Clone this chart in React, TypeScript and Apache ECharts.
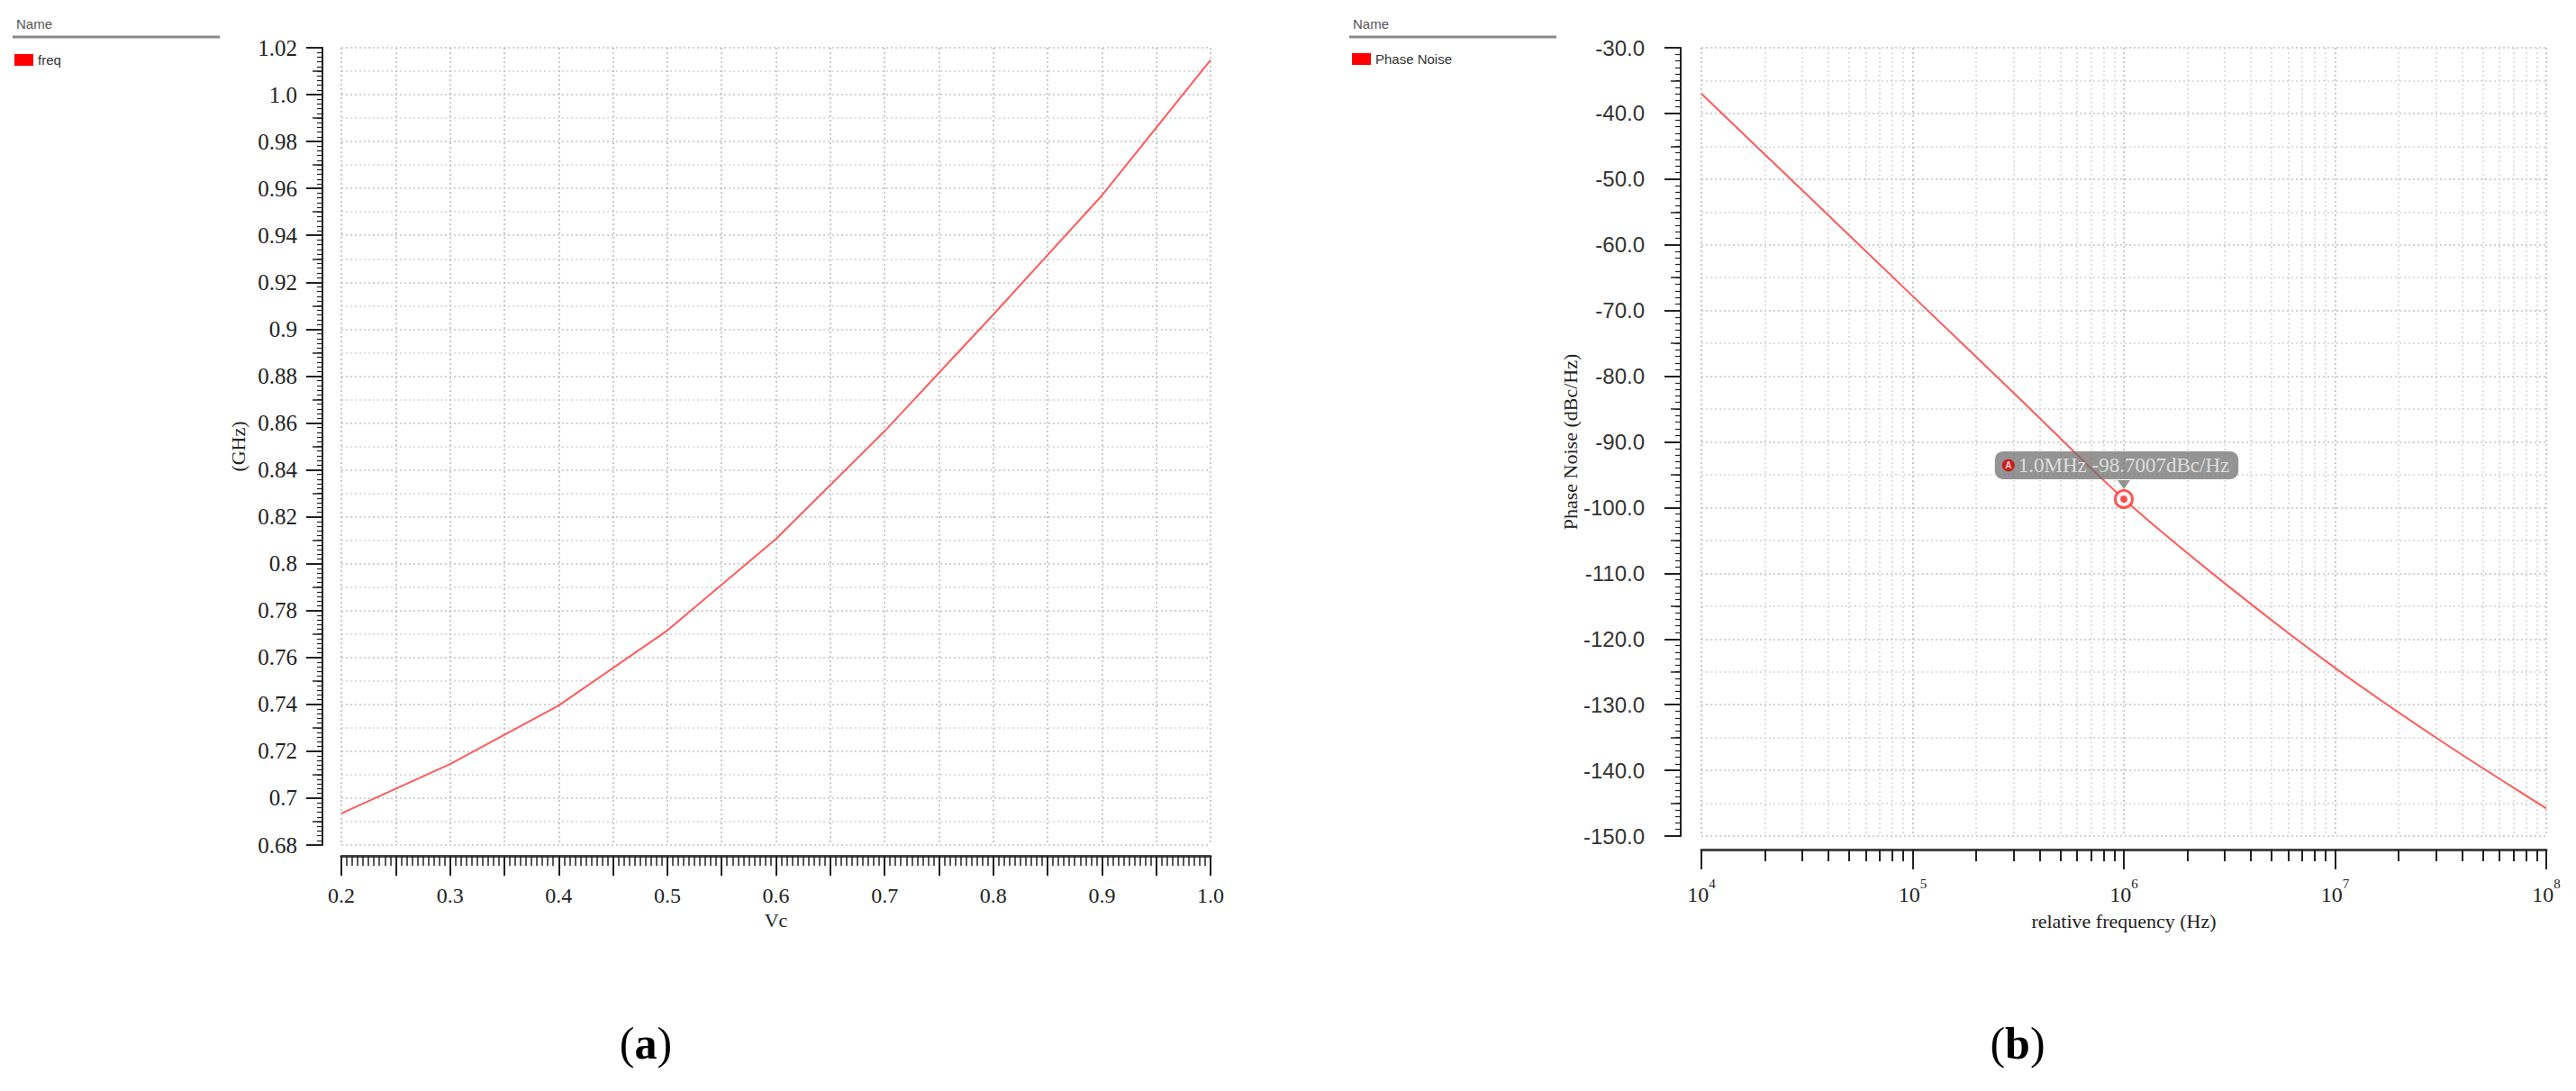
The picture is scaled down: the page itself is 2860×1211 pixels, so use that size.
import React, { useEffect, useRef } from 'react';
import * as echarts from 'echarts';

// ---------- data ----------
const vcValues = [0.2, 0.3, 0.4, 0.5, 0.6, 0.7, 0.8, 0.9, 1.0];
const freqGHz = [0.6935, 0.7145, 0.7395, 0.7715, 0.8105, 0.8565, 0.9062, 0.957, 1.0148];

const offsetFreqHz = [10000, 31623, 100000, 316228, 1000000, 3162278, 10000000, 31622777, 100000000];
const phaseNoise = [-37.0, -52.4, -67.8, -83.2, -98.7, -112.1, -124.4, -135.5, -145.8];

const markerFreqHz = 1000000;
const markerPN = -98.7007;
const markerText = '1.0MHz -98.7007dBc/Hz';

const decadeExponents = [4, 5, 6, 7];
const minorFactors = [2, 3, 4, 5, 6, 7, 8, 9];

const SERIF = '"Liberation Serif", "DejaVu Serif", serif';
const SANS = '"Liberation Sans", "DejaVu Sans", sans-serif';
const LINE_COLOR = '#ff5a5a';

const minorLogTicks: number[] = [];
decadeExponents.forEach((e) => minorFactors.forEach((k) => minorLogTicks.push(Math.log10(k * Math.pow(10, e)))));

const fmtLeftY = (v: number) => {
  let s = String(+v.toFixed(2));
  if (s.indexOf('.') < 0) s += '.0';
  return s;
};
const fmtLeftX = (v: number) => {
  const r = Math.round(v * 100);
  if (r % 10 !== 0) return '';
  return (r / 100).toFixed(1);
};

export default function App() {
  const ref = useRef<HTMLDivElement>(null);
  useEffect(() => {
    document.body.style.margin = '0';
    if (!ref.current) return;
    const chart = echarts.init(ref.current, null, { renderer: 'svg' });

    const dotMajor = { type: [2, 3] as any, color: '#b8b8b8', width: 1.5 };
    const dotMinor = { type: [2, 3] as any, color: '#d4d4d4', width: 1.5 };
    const tickStyle = { color: '#222', width: 2 };

    const option: any = {
      animation: false,
      backgroundColor: '#ffffff',
      grid: [
        { left: 379, top: 53, width: 965, height: 885 },
        { left: 1889, top: 53, width: 938, height: 875 },
      ],
      legend: [
        {
          left: 16, top: 59, padding: 0, itemWidth: 21, itemHeight: 13, icon: 'rect', selectedMode: false,
          data: [{ name: 'freq', itemStyle: { color: '#ff0000' } }],
          textStyle: { fontFamily: SANS, fontSize: 15, color: '#333' },
        },
        {
          left: 1501, top: 58, padding: 0, itemWidth: 21, itemHeight: 13, icon: 'rect', selectedMode: false,
          data: [{ name: 'Phase Noise', itemStyle: { color: '#ff0000' } }],
          textStyle: { fontFamily: SANS, fontSize: 15, color: '#333' },
        },
      ],
      xAxis: [
        {
          type: 'value', gridIndex: 0, min: 0.2, max: 1.0, interval: 0.05, position: 'bottom', offset: 12,
          axisLine: { show: true, onZero: false, lineStyle: { color: '#444', width: 3 } },
          axisTick: { show: true, length: 22, lineStyle: tickStyle },
          minorTick: { show: true, splitNumber: 10, length: 11, lineStyle: { color: '#222', width: 1.5 } },
          axisLabel: { formatter: fmtLeftX, margin: 32, fontFamily: SERIF, fontSize: 24, color: '#222' },
          splitLine: { show: true, lineStyle: dotMajor },
          name: 'Vc', nameLocation: 'middle', nameGap: 60,
          nameTextStyle: { fontFamily: SERIF, fontSize: 22, color: '#222' },
        },
        {
          type: 'value', gridIndex: 1, min: 4, max: 8, interval: 1, position: 'bottom', offset: 15,
          axisLine: { show: true, onZero: false, lineStyle: { color: '#444', width: 3 } },
          axisTick: { show: true, length: 22, lineStyle: tickStyle },
          axisLabel: {
            margin: 30,
            formatter: (v: number) => `{b|10}{s|${Math.round(v)}}`,
            rich: {
              b: { fontFamily: SERIF, fontSize: 24, color: '#222', lineHeight: 32, verticalAlign: 'bottom' },
              s: { fontFamily: SERIF, fontSize: 15, color: '#222', verticalAlign: 'top' },
            },
          },
          splitLine: { show: true, lineStyle: dotMajor },
          name: 'relative frequency (Hz)', nameLocation: 'middle', nameGap: 68,
          nameTextStyle: { fontFamily: SERIF, fontSize: 22, color: '#222' },
        },
        {
          type: 'value', gridIndex: 1, min: 4, max: 8, position: 'bottom', offset: 15,
          axisLine: { show: false, onZero: false },
          axisTick: { show: true, length: 13, customValues: minorLogTicks, lineStyle: tickStyle },
          axisLabel: { show: false },
          splitLine: { show: true, lineStyle: dotMinor },
        },
      ],
      yAxis: [
        {
          type: 'value', gridIndex: 0, min: 0.68, max: 1.02, interval: 0.02, position: 'left', offset: 21,
          axisLine: { show: true, onZero: false, lineStyle: { color: '#222', width: 2 } },
          axisTick: { show: true, length: 18, lineStyle: tickStyle },
          minorTick: { show: true, splitNumber: 10, length: 6, lineStyle: { color: '#222', width: 1.2 } },
          axisLabel: { formatter: fmtLeftY, margin: 28, fontFamily: SERIF, fontSize: 25, color: '#222' },
          splitLine: { show: true, lineStyle: dotMajor },
          name: '(GHz)', nameLocation: 'middle', nameGap: 83,
          nameTextStyle: { fontFamily: SERIF, fontSize: 22, color: '#222' },
        },
        {
          type: 'value', gridIndex: 0, min: 0.68, max: 1.02, interval: 0.01, position: 'left', offset: 21,
          axisLine: { show: false, onZero: false },
          axisTick: { show: true, length: 11, lineStyle: { color: '#222', width: 1.5 } },
          axisLabel: { show: false },
          splitLine: { show: true, lineStyle: dotMinor },
        },
        {
          type: 'value', gridIndex: 1, min: -150, max: -30, interval: 10, position: 'left', offset: 23,
          axisLine: { show: true, onZero: false, lineStyle: { color: '#222', width: 2 } },
          axisTick: { show: true, length: 18, lineStyle: tickStyle },
          minorTick: { show: true, splitNumber: 10, length: 6, lineStyle: { color: '#222', width: 1.2 } },
          axisLabel: { formatter: (v: number) => v.toFixed(1), margin: 40, fontFamily: SANS, fontSize: 24, color: '#333' },
          splitLine: { show: true, lineStyle: dotMajor },
          name: 'Phase Noise (dBc/Hz)', nameLocation: 'middle', nameGap: 104,
          nameTextStyle: { fontFamily: SERIF, fontSize: 22, color: '#222' },
        },
        {
          type: 'value', gridIndex: 1, min: -150, max: -30, interval: 5, position: 'left', offset: 23,
          axisLine: { show: false, onZero: false },
          axisTick: { show: true, length: 11, lineStyle: { color: '#222', width: 1.5 } },
          axisLabel: { show: false },
          splitLine: { show: true, lineStyle: dotMinor },
        },
      ],
      series: [
        {
          name: 'freq', type: 'line', xAxisIndex: 0, yAxisIndex: 0, showSymbol: false, symbol: 'none',
          lineStyle: { color: LINE_COLOR, width: 2 }, itemStyle: { color: LINE_COLOR },
          data: vcValues.map((v, i) => [v, freqGHz[i]]),
        },
        {
          name: 'Phase Noise', type: 'line', xAxisIndex: 1, yAxisIndex: 2, showSymbol: false, symbol: 'none',
          smooth: 0.3,
          lineStyle: { color: LINE_COLOR, width: 2 }, itemStyle: { color: LINE_COLOR },
          data: offsetFreqHz.map((f, i) => [Math.log10(f), phaseNoise[i]]),
        },
        {
          name: 'pointer', type: 'scatter', xAxisIndex: 1, yAxisIndex: 2, z: 4,
          symbol: 'triangle', symbolRotate: 180, symbolSize: [14, 10], symbolOffset: [0, -16],
          itemStyle: { color: 'rgba(110,110,110,0.92)' },
          data: [[Math.log10(markerFreqHz), markerPN]],
        },
        {
          name: 'marker', type: 'scatter', xAxisIndex: 1, yAxisIndex: 2, z: 5,
          symbol: 'circle', symbolSize: 19,
          itemStyle: { color: '#ffffff', borderColor: '#ff2b2b', borderWidth: 3 },
          data: [[Math.log10(markerFreqHz), markerPN]],
          label: {
            show: true, position: 'top', distance: 11, offset: [-8, 0],
            formatter: `{a|A}{t|${markerText}}`,
            backgroundColor: 'rgba(110,110,110,0.92)', borderRadius: 9, padding: [3, 10, 3, 8],
            rich: {
              a: {
                backgroundColor: '#d40000', color: '#ffffff', width: 14, height: 14, borderRadius: 7,
                align: 'center', fontSize: 10, fontWeight: 'bold', fontFamily: SANS, lineHeight: 14,
              },
              t: { fontFamily: SERIF, fontSize: 23, color: '#f2f2f2', padding: [0, 0, 0, 4], lineHeight: 25 },
            },
          },
        },
        {
          name: 'markerDot', type: 'scatter', xAxisIndex: 1, yAxisIndex: 2, z: 6,
          symbol: 'circle', symbolSize: 8, itemStyle: { color: '#ff2020' },
          data: [[Math.log10(markerFreqHz), markerPN]],
        },
      ],
      graphic: [
        { type: 'text', x: 18, y: 26, style: { text: 'Name', fontFamily: SANS, fontSize: 15, fill: '#555', verticalAlign: 'middle' } },
        { type: 'line', shape: { x1: 14, y1: 41, x2: 244, y2: 41 }, style: { stroke: '#8a8a8a', lineWidth: 3 } },
        { type: 'text', x: 1502, y: 26, style: { text: 'Name', fontFamily: SANS, fontSize: 15, fill: '#555', verticalAlign: 'middle' } },
        { type: 'line', shape: { x1: 1498, y1: 41, x2: 1728, y2: 41 }, style: { stroke: '#8a8a8a', lineWidth: 3 } },
        {
          type: 'text', x: 717, y: 1158,
          style: {
            text: '{p|(}{b|a}{p|)}', align: 'center', verticalAlign: 'middle', fill: '#000',
            rich: {
              p: { fontFamily: SERIF, fontSize: 50, fill: '#000' },
              b: { fontFamily: SERIF, fontSize: 50, fontWeight: 'bold', fill: '#000' },
            },
          },
        },
        {
          type: 'text', x: 2240, y: 1158,
          style: {
            text: '{p|(}{b|b}{p|)}', align: 'center', verticalAlign: 'middle', fill: '#000',
            rich: {
              p: { fontFamily: SERIF, fontSize: 50, fill: '#000' },
              b: { fontFamily: SERIF, fontSize: 50, fontWeight: 'bold', fill: '#000' },
            },
          },
        },
      ],
    };
    chart.setOption(option);
    return () => chart.dispose();
  }, []);
  return <div ref={ref} style={{ position: 'absolute', left: 0, top: 0, width: 2860, height: 1211 }} />;
}
